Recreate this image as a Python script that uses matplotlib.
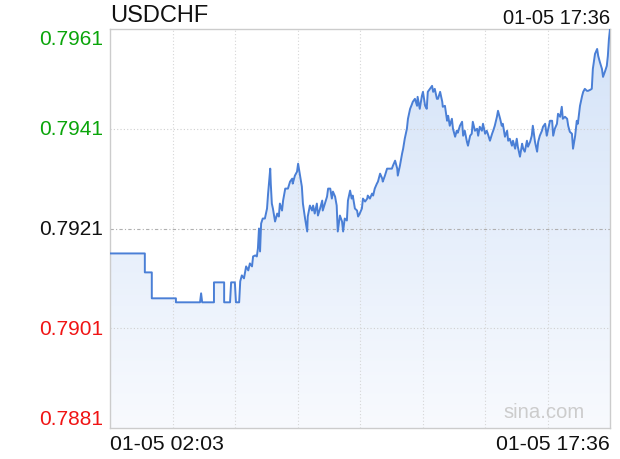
import numpy as np
import matplotlib
matplotlib.use("Agg")
import matplotlib.pyplot as plt
import matplotlib.transforms as mtransforms
from matplotlib.colors import LinearSegmentedColormap

plt.rcParams['font.family'] = ['Liberation Sans', 'DejaVu Sans']

symbol = "USDCHF"
start_label = "01-05 02:03"
end_label = "01-05 17:36"
prev_close = 0.7921

# minutes since 02:03
minutes = [0, 65, 65, 78, 78, 123, 123, 168, 170, 172, 194, 194, 213, 213, 224, 226, 233, 235,
           241, 243, 246, 250, 254, 258, 261, 265, 267, 271, 274, 276, 278, 280, 282, 285, 289,
           293, 295, 299, 300, 302, 304, 308, 312, 315, 317, 321, 323, 327, 332, 336, 340, 341,
           345, 349, 351, 355, 358, 360, 364, 368, 369, 373, 377, 379, 382, 386, 388, 392, 396,
           397, 401, 405, 407, 411, 414, 416, 420, 423, 425, 429, 433, 435, 438, 442, 444, 448,
           451, 453, 457, 461, 463, 466, 470, 472, 476, 480, 481, 485, 489, 491, 494, 498, 500,
           504, 508, 509, 513, 517, 522, 526, 528, 532, 536, 537, 541, 545, 547, 550, 554, 556,
           560, 563, 565, 569, 573, 574, 578, 582, 584, 588, 591, 593, 597, 601, 603, 606, 610,
           612, 616, 620, 621, 625, 629, 631, 634, 638, 640, 644, 647, 649, 653, 657, 659, 662,
           666, 668, 672, 675, 677, 681, 685, 687, 690, 694, 696, 700, 703, 705, 709, 713, 715,
           718, 722, 724, 728, 731, 733, 737, 741, 743, 746, 750, 752, 756, 759, 761, 765, 769,
           771, 774, 778, 780, 784, 787, 789, 793, 797, 799, 802, 806, 808, 812, 815, 817, 821,
           825, 827, 830, 834, 836, 840, 843, 845, 849, 853, 855, 858, 862, 864, 868, 871, 873,
           877, 881, 883, 886, 890, 892, 896, 899, 901, 905, 909, 911, 914, 918, 920, 924, 927,
           929, 931, 933]

prices = [0.79160, 0.79160, 0.79122, 0.79122, 0.79070, 0.79070, 0.79062, 0.79062, 0.79080,
          0.79062, 0.79062, 0.79102, 0.79102, 0.79062, 0.79062, 0.79102, 0.79102, 0.79062,
          0.79062, 0.79104, 0.79116, 0.79110, 0.79134, 0.79126, 0.79140, 0.79134, 0.79154,
          0.79156, 0.79154, 0.79170, 0.79210, 0.79164, 0.79220, 0.79230, 0.79230, 0.79250,
          0.79280, 0.79330, 0.79300, 0.79260, 0.79250, 0.79224, 0.79240, 0.79234, 0.79260,
          0.79246, 0.79266, 0.79290, 0.79290, 0.79304, 0.79310, 0.79300, 0.79316, 0.79324,
          0.79340, 0.79314, 0.79294, 0.79260, 0.79230, 0.79204, 0.79234, 0.79256, 0.79246,
          0.79256, 0.79240, 0.79260, 0.79236, 0.79250, 0.79266, 0.79246, 0.79260, 0.79274,
          0.79290, 0.79290, 0.79270, 0.79284, 0.79274, 0.79256, 0.79204, 0.79236, 0.79224,
          0.79204, 0.79230, 0.79226, 0.79266, 0.79286, 0.79270, 0.79276, 0.79250, 0.79246,
          0.79234, 0.79240, 0.79250, 0.79270, 0.79264, 0.79270, 0.79276, 0.79270, 0.79280,
          0.79276, 0.79290, 0.79300, 0.79304, 0.79320, 0.79310, 0.79304, 0.79316, 0.79330,
          0.79330, 0.79330, 0.79336, 0.79346, 0.79330, 0.79316, 0.79336, 0.79360, 0.79370,
          0.79390, 0.79410, 0.79430, 0.79450, 0.79458, 0.79464, 0.79470, 0.79456, 0.79474,
          0.79450, 0.79476, 0.79484, 0.79456, 0.79450, 0.79484, 0.79490, 0.79496, 0.79484,
          0.79490, 0.79470, 0.79470, 0.79484, 0.79464, 0.79454, 0.79456, 0.79426, 0.79436,
          0.79416, 0.79430, 0.79410, 0.79394, 0.79406, 0.79402, 0.79416, 0.79424, 0.79396,
          0.79406, 0.79384, 0.79376, 0.79396, 0.79400, 0.79424, 0.79406, 0.79410, 0.79396,
          0.79414, 0.79406, 0.79420, 0.79400, 0.79406, 0.79400, 0.79386, 0.79400, 0.79406,
          0.79416, 0.79434, 0.79446, 0.79430, 0.79416, 0.79420, 0.79394, 0.79406, 0.79386,
          0.79390, 0.79376, 0.79386, 0.79370, 0.79390, 0.79374, 0.79354, 0.79380, 0.79370,
          0.79364, 0.79386, 0.79374, 0.79384, 0.79396, 0.79416, 0.79384, 0.79364, 0.79384,
          0.79396, 0.79406, 0.79414, 0.79420, 0.79396, 0.79406, 0.79426, 0.79426, 0.79396,
          0.79410, 0.79420, 0.79440, 0.79434, 0.79454, 0.79430, 0.79434, 0.79430, 0.79416,
          0.79404, 0.79400, 0.79370, 0.79396, 0.79426, 0.79420, 0.79456, 0.79476, 0.79484,
          0.79490, 0.79486, 0.79486, 0.79488, 0.79490, 0.79530, 0.79560, 0.79570, 0.79556,
          0.79544, 0.79530, 0.79514, 0.79526, 0.79536, 0.79556, 0.79590, 0.79610]

yticks = [0.7881, 0.7901, 0.7921, 0.7941, 0.7961]
ytick_colors = ['#f01414', '#f01414', '#111111', '#0aa50a', '#0aa50a']

fig = plt.figure(figsize=(6.2, 4.6), dpi=100)
ax = fig.add_axes([110 / 620, 31 / 460, 500 / 620, 399 / 460])

t = np.array(minutes)
p = np.array(prices)
x0, x1 = 0, 933
y0, y1 = yticks[0], yticks[-1]
ax.set_xlim(x0, x1)
ax.set_ylim(y0, y1)

# gradient fill below the line
cmap = LinearSegmentedColormap.from_list("fill", ["#f8fafe", "#d4e3f8"])
grad = np.linspace(0, 1, 256).reshape(-1, 1)
img = ax.imshow(grad, extent=[x0, x1, y0, y1], origin='lower', aspect='auto',
                cmap=cmap, zorder=1)
poly = ax.fill_between(t, p, y0, facecolor='none', edgecolor='none')
clip = poly.get_paths()[0]
img.set_clip_path(clip, transform=ax.transData)

ax.plot(t, p, color='#4a7fd6', lw=1.4, zorder=3)

# grid
for k in range(1, 8):
    ax.axvline(x1 * k / 8, color='#d6d6d6', lw=0.8, ls=(0, (1, 2)), zorder=2)
for v in [0.7941, 0.7901]:
    ax.axhline(v, color='#cfcfcf', lw=0.8, ls=(0, (1, 2)), zorder=2)
ax.axhline(prev_close, color='#b0b0b0', lw=0.8, ls=(0, (3, 2, 1, 2)), zorder=2)

ax.set_xticks([])
ax.set_yticks([])
for s in ax.spines.values():
    s.set_color('#cccccc')
    s.set_linewidth(1)

# price labels on the left
trans = mtransforms.blended_transform_factory(fig.transFigure, ax.transData)
for i, (v, c) in enumerate(zip(yticks, ytick_colors)):
    va = 'center'
    if i == 0:
        va = 'bottom'
    elif i == len(yticks) - 1:
        va = 'top'
    ax.text(103 / 620, v, f"{v:.4f}", color=c, fontsize=15, ha='right', va=va,
            transform=trans)

fig.text(110 / 620, 1 - 16 / 460, symbol, fontsize=17, ha='left', va='center', color='#111111')
fig.text(610 / 620, 1 - 18 / 460, end_label, fontsize=14.5, ha='right', va='center', color='#111111')
fig.text(110 / 620, 1 - 445 / 460, start_label, fontsize=15.3, ha='left', va='center', color='#111111')
fig.text(610 / 620, 1 - 445 / 460, end_label, fontsize=15.3, ha='right', va='center', color='#111111')
fig.text(585 / 620, 1 - 412 / 460, "sina.com", fontsize=14.6, ha='right', va='center', color='#cccccc')

fig.savefig("out.png", dpi=100)
